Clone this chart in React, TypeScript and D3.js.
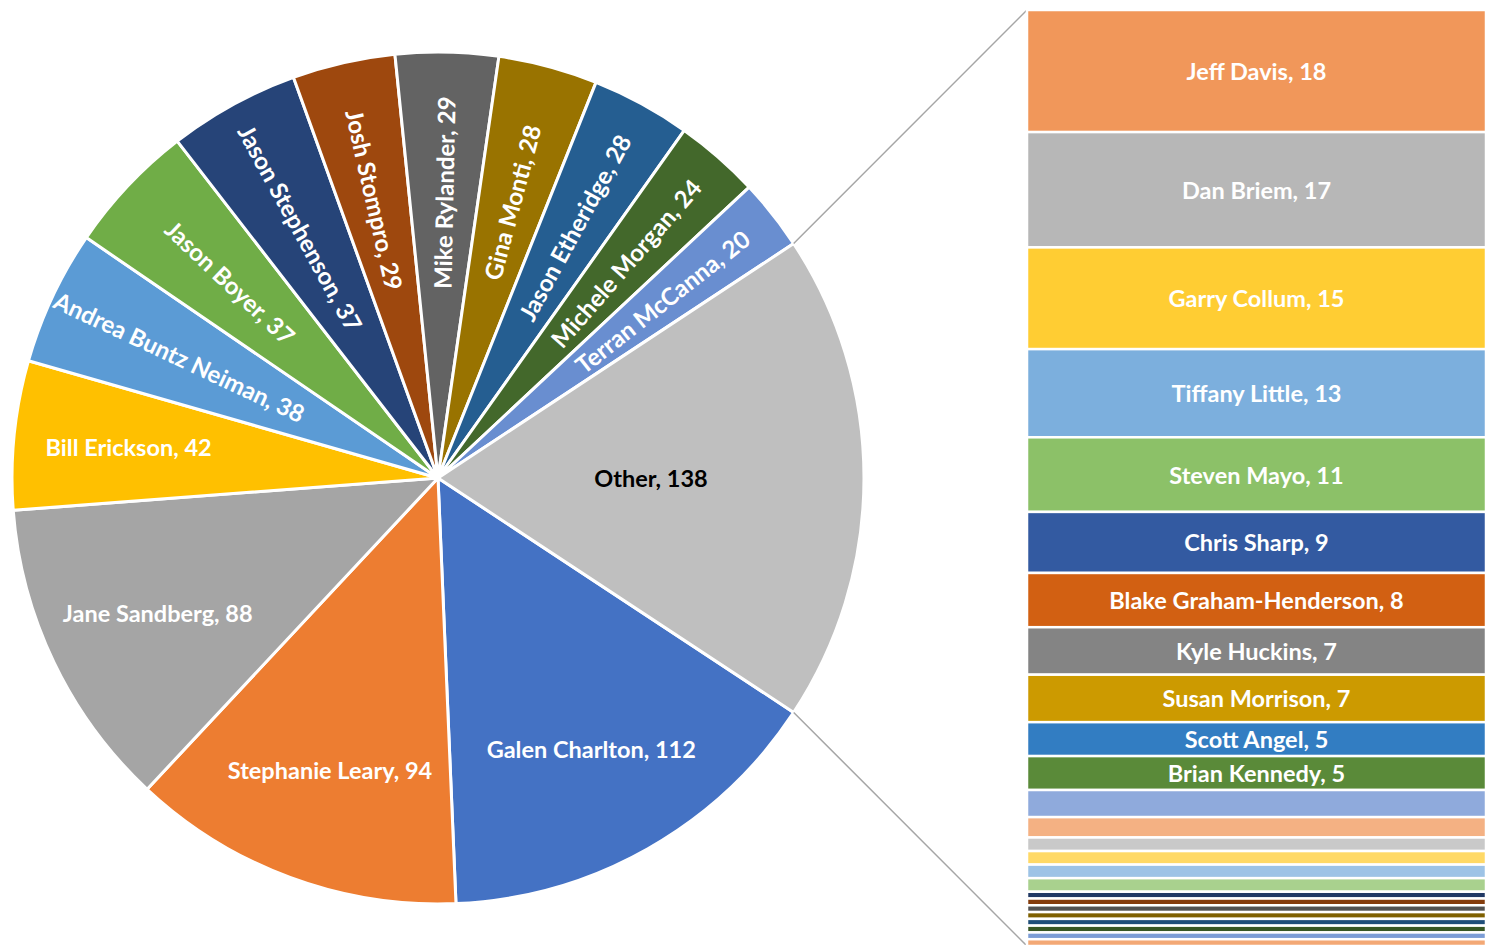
import { useEffect, useRef } from "react";
import * as d3 from "d3";

// pie slices (clockwise, starting just below the "Other" slice)
const pieNames = [
  "Galen Charlton",
  "Stephanie Leary",
  "Jane Sandberg",
  "Bill Erickson",
  "Andrea Buntz Neiman",
  "Jason Boyer",
  "Jason Stephenson",
  "Josh Stompro",
  "Mike Rylander",
  "Gina Monti",
  "Jason Etheridge",
  "Michele Morgan",
  "Terran McCanna",
];
const pieValues = [112, 94, 88, 42, 38, 37, 37, 29, 29, 28, 28, 24, 20];
const pieColors = [
  "#4472C4", "#ED7D31", "#A5A5A5", "#FFC000", "#5B9BD5", "#70AD47",
  "#264478", "#9E480E", "#636363", "#997300", "#255E91", "#43682B", "#698ED0",
];

const otherName = "Other";
const otherColor = "#BFBFBF";

// the "Other" slice broken out into the stacked bar (top to bottom)
const barNames = [
  "Jeff Davis",
  "Dan Briem",
  "Garry Collum",
  "Tiffany Little",
  "Steven Mayo",
  "Chris Sharp",
  "Blake Graham-Henderson",
  "Kyle Huckins",
  "Susan Morrison",
  "Scott Angel",
  "Brian Kennedy",
  "", "", "", "", "", "",
  "", "", "", "", "", "", "", "",
];
const barValues = [
  18, 17, 15, 13, 11, 9, 8, 7, 7, 5, 5,
  4, 3, 2, 2, 2, 2,
  1, 1, 1, 1, 1, 1, 1, 1,
];
const barColors = [
  "#F1975A", "#B7B7B7", "#FFCD33", "#7CAFDD", "#8CC168", "#335AA1",
  "#D26012", "#848484", "#CC9A00", "#327DC2", "#5A8A39",
  "#8FAADC", "#F4B183", "#C9C9C9", "#FFD966", "#9DC3E6", "#A9D18E",
  "#203864", "#843C0C", "#525252", "#7F6000", "#1F4E79", "#385723",
  "#7C9DD6", "#F3A875",
];

const W = 1486;
const H = 945;
const FONT = "Lato, 'Open Sans', sans-serif";

export default function App() {
  const ref = useRef<SVGSVGElement>(null);

  useEffect(() => {
    const svg = d3.select(ref.current);
    svg.selectAll("*").remove();

    const cx = 438;
    const cy = 478;
    const R = 426;

    const otherTotal = d3.sum(barValues);
    const slices = pieNames.map((n, i) => ({ name: n, value: pieValues[i], color: pieColors[i], other: false }));
    slices.push({ name: otherName, value: otherTotal, color: otherColor, other: true });

    const total = d3.sum(slices, (d) => d.value);
    const otherSpan = (otherTotal / total) * 2 * Math.PI;
    const start = Math.PI / 2 + otherSpan / 2;

    const pie = d3
      .pie<any>()
      .sort(null)
      .value((d) => d.value)
      .startAngle(start)
      .endAngle(start + 2 * Math.PI);

    const arcs = pie(slices);
    const arc = d3.arc<any>().innerRadius(0).outerRadius(R);

    const g = svg.append("g").attr("transform", `translate(${cx},${cy})`);

    g.selectAll("path")
      .data(arcs)
      .join("path")
      .attr("d", arc)
      .attr("fill", (d) => d.data.color)
      .attr("stroke", "#fff")
      .attr("stroke-width", 3)
      .attr("stroke-linejoin", "round");

    // roughly where excel's best-fit puts the labels
    const labelR = (d: any) => {
      if (d.data.other) return R * 0.5;
      if (d.data.value >= 40) return R * 0.73;
      return R * 0.67;
    };

    g.selectAll("text")
      .data(arcs)
      .join("text")
      .attr("transform", (d) => {
        const a = (d.startAngle + d.endAngle) / 2;
        const r = labelR(d);
        const x = r * Math.sin(a);
        const y = -r * Math.cos(a);
        if (d.data.value >= 40) return `translate(${x},${y})`;
        let deg = (a * 180) / Math.PI - 90;
        deg = ((deg % 360) + 360) % 360;
        if (deg > 90 && deg < 270) deg -= 180;
        if (deg >= 270) deg -= 360;
        return `translate(${x},${y}) rotate(${deg})`;
      })
      .attr("text-anchor", "middle")
      .attr("dominant-baseline", "central")
      .attr("font-family", FONT)
      .attr("font-weight", 700)
      .attr("font-size", (d) => (d.data.value >= 40 ? 23.5 : 24))
      .attr("fill", (d) => (d.data.other ? "#000" : "#fff"))
      .text((d) => `${d.data.name}, ${d.data.value}`);

    // stacked bar
    const bx0 = 1027;
    const bx1 = W;
    const y = d3.scaleLinear().domain([0, otherTotal]).range([10, 946]);
    const cum = d3.cumsum(barValues);
    const segs = barValues.map((v, i) => ({
      name: barNames[i],
      value: v,
      color: barColors[i],
      y0: cum[i] - v,
      y1: cum[i],
    }));

    // connector lines from the "Other" slice to the bar
    const a0 = arcs[arcs.length - 1].startAngle;
    const a1 = arcs[arcs.length - 1].endAngle;
    const conn = [
      [cx + R * Math.sin(a0), cy - R * Math.cos(a0), bx0, y(0)],
      [cx + R * Math.sin(a1), cy - R * Math.cos(a1), bx0, y(otherTotal)],
    ];
    svg
      .append("g")
      .selectAll("line")
      .data(conn)
      .join("line")
      .attr("x1", (d) => d[0])
      .attr("y1", (d) => d[1])
      .attr("x2", (d) => d[2])
      .attr("y2", (d) => d[3])
      .attr("stroke", "#A6A6A6")
      .attr("stroke-width", 1.5);

    const bar = svg.append("g");
    bar
      .selectAll("rect")
      .data(segs)
      .join("rect")
      .attr("x", bx0)
      .attr("width", bx1 - bx0)
      .attr("y", (d) => y(d.y0))
      .attr("height", (d) => y(d.y1) - y(d.y0))
      .attr("fill", (d) => d.color)
      .attr("stroke", "#fff")
      .attr("stroke-width", 2.5);

    bar
      .selectAll("text")
      .data(segs.filter((d) => d.name))
      .join("text")
      .attr("x", (bx0 + bx1) / 2)
      .attr("y", (d) => (y(d.y0) + y(d.y1)) / 2)
      .attr("text-anchor", "middle")
      .attr("dominant-baseline", "central")
      .attr("font-family", FONT)
      .attr("font-weight", 700)
      .attr("font-size", 23.5)
      .attr("fill", "#fff")
      .text((d) => `${d.name}, ${d.value}`);
  }, []);

  return (
    <svg
      ref={ref}
      width={W}
      height={H}
      style={{ position: "fixed", left: 0, top: 0, background: "#fff" }}
    ></svg>
  );
}
